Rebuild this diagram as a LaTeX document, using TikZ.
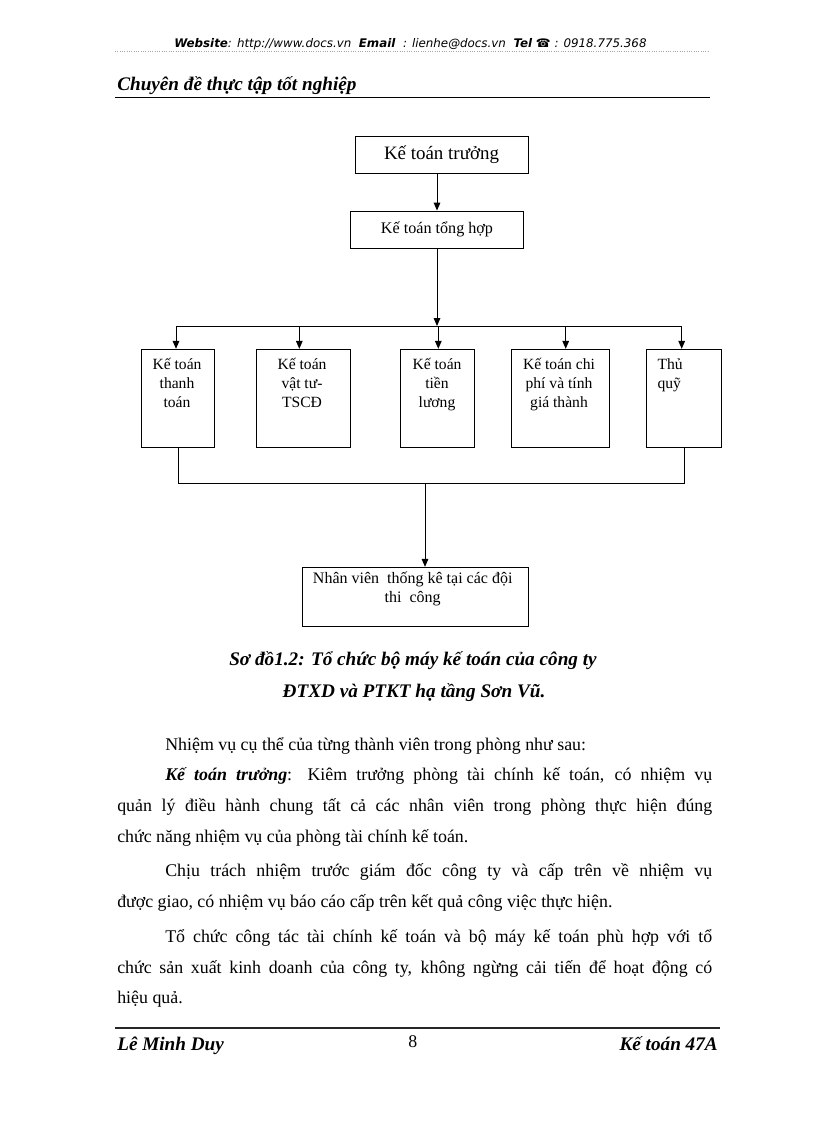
\documentclass[tikz,border=0pt]{standalone}
\usepackage{fontspec}
\setmainfont{Liberation Serif}
\newfontfamily\hdr{DejaVu Sans}
\usetikzlibrary{arrows.meta}
\begin{document}
\begin{tikzpicture}[x=0.75pt,y=-0.75pt,
  box/.style={draw, line width=0.75pt, inner sep=0pt},
  ln/.style={line width=0.75pt},
  arr/.style={line width=0.75pt, -{Triangle[length=6pt,width=5pt]}},
  btxt/.style={font=\fontsize{11.7}{13.9}\selectfont, align=center, anchor=base, inner sep=0pt},
  body/.style={font=\fontsize{13.4}{16}\selectfont, anchor=base west, inner sep=0pt},
  bi/.style={font=\fontsize{14.4}{17}\selectfont\bfseries\itshape, inner sep=0pt}
]
\useasboundingbox (0,0) rectangle (816,1123);
% header
\node[anchor=base west, inner sep=0pt, font=\hdr\fontsize{8.9}{10}\selectfont\itshape] (hd) at (174,48)
  {\textbf{Website}: http://www.docs.vn\ \ \textbf{Email}\ \ : lienhe@docs.vn\ \ \textbf{Tel} ☎ : 0918.775.368};
\draw[gray!70, line width=0.75pt, densely dotted] (115,52) -- (710,52);
\node[body, font=\fontsize{14.4}{16}\selectfont\bfseries\itshape] (title) at (117,91) {Chuyên đề thực tập tốt nghiệp};
\draw[line width=0.9pt] (115,97.5) -- (710,97.5);

% diagram
\node[box, minimum width=129.75pt, minimum height=27.5pt, font=\fontsize{14.2}{17}\selectfont] (b1) at (441.5,155) {Kế toán trưởng};
\node[box, minimum width=129.5pt, minimum height=28pt, font=\fontsize{12.1}{14}\selectfont] (b2) at (437,229.7) {Kế toán tổng hợp};

\node[box, minimum width=55pt, minimum height=73.8pt] (r1) at (178.3,398.5) {};
\node[box, minimum width=70.5pt, minimum height=73.8pt] (r2) at (303.7,398.5) {};
\node[box, minimum width=55.7pt, minimum height=73.8pt] (r3) at (437.2,398.5) {};
\node[box, minimum width=73.7pt, minimum height=73.8pt] (r4) at (560.85,398.5) {};
\node[box, minimum width=56.25pt, minimum height=73.8pt] (r5) at (684.2,398.5) {};
\node[box, minimum width=169.5pt, minimum height=44.5pt] (bot) at (415.3,597) {};

% (base anchor = baseline of the last line)
\node[btxt] (r1t) at (177,407) {Kế toán\\thanh\\toán};
\node[btxt] (r2t) at (302,407) {Kế toán\\vật tư-\\TSCĐ};
\node[btxt] (r3t) at (437,407) {Kế toán\\tiền\\lương};
\node[btxt] (r4t) at (559,407) {Kế toán chi\\phí và tính\\giá thành};
\node[btxt, align=left, anchor=base west] (r5t) at (657.3,388.5) {Thủ\\quỹ};
\node[btxt, font=\fontsize{12}{14.5}\selectfont] (bott) at (412.7,602.5) {Nhân viên\ \ thống kê tại các đội\\thi\ \ công};

% connectors
\draw[arr] (b1.south -| b2.north) -- (b2.north);
\coordinate (bus) at (437,326);
\coordinate (busL) at (176,326);
\coordinate (busR) at (681.7,326);
\draw[arr] (b2.south) -- (bus);
\draw[ln] (busL) -- (busR);
\draw[arr] (busL) -- (busL |- r1.north);
\coordinate (t2) at (299.3,326);
\coordinate (t3) at (438.3,326);
\coordinate (t4) at (565.7,326);
\draw[arr] (t2) -- (t2 |- r2.north);
\draw[arr] (t3) -- (t3 |- r3.north);
\draw[arr] (t4) -- (t4 |- r4.north);
\draw[arr] (busR) -- (busR |- r5.north);
\coordinate (busB) at (425,483.3);
\draw[ln] (r1.south) |- (busB) -| (r5.south);
\draw[arr] (busB) -- (busB |- bot.north);

% caption
\node[bi, anchor=base] (cap1) at (413,665) {Sơ đồ1.2: Tổ chức bộ máy kế toán của công ty};
\node[bi, anchor=base] (cap2) at (414,697) {ĐTXD và PTKT hạ tầng Sơn Vũ.};

% body
\node[body] (l1) at (165,750) {Nhiệm vụ cụ thể của từng thành viên trong phòng như sau:};
\node[body] (l2) at (165,780) {\makebox[410.25pt][s]{\textbf{\textit{Kế toán trưởng}}: Kiêm trưởng phòng tài chính kế toán, có nhiệm vụ}};
\node[body] (l3) at (117,811) {\makebox[446.25pt][s]{quản lý điều hành chung tất cả các nhân viên trong phòng thực hiện đúng}};
\node[body] (l4) at (117,842) {chức năng nhiệm vụ của phòng tài chính kế toán.};
\node[body] (l5) at (165,876) {\makebox[410.25pt][s]{Chịu trách nhiệm trước giám đốc công ty và cấp trên về nhiệm vụ}};
\node[body] (l6) at (117,907) {được giao, có nhiệm vụ báo cáo cấp trên kết quả công việc thực hiện.};
\node[body] (l7) at (165,942) {\makebox[410.25pt][s]{Tổ chức công tác tài chính kế toán và bộ máy kế toán phù hợp với tổ}};
\node[body] (l8) at (117,973) {\makebox[446.25pt][s]{chức sản xuất kinh doanh của công ty, không ngừng cải tiến để hoạt động có}};
\node[body] (l9) at (117,1003) {hiệu quả.};

% footer
\draw[line width=1.1pt, black!85] (115,1028) -- (720,1028);
\node[bi, anchor=base west] (f1) at (117,1050) {Lê Minh Duy};
\node[body] (f2) at (408,1047) {8};
\node[bi, anchor=base east] (f3) at (718,1050) {Kế toán 47A};
\end{tikzpicture}
\end{document}
